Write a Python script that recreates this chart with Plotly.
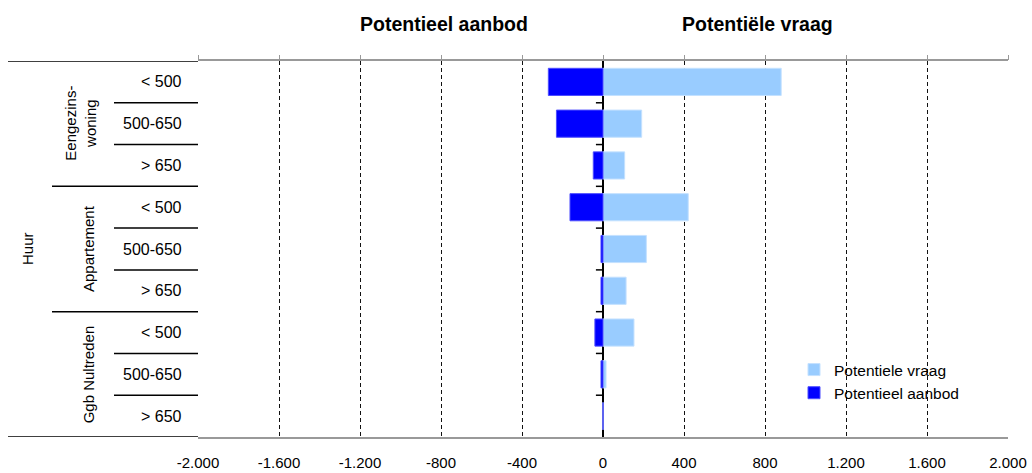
import plotly.graph_objects as go

# ---- data ----
sub_labels = ["< 500", "500-650", "> 650",
              "< 500", "500-650", "> 650",
              "< 500", "500-650", "> 650"]
groups = ["Eengezins-<br>woning", "Appartement", "Ggb Nultreden"]
top_group = "Huur"
vraag = [880, 191, 107, 421, 214, 114, 153, 15, 0]       # Potentiele vraag
aanbod = [-270, -230, -48, -163, -10, -10, -40, -10, 0]  # Potentieel aanbod
tick_vals = [-2000, -1600, -1200, -800, -400, 0, 400, 800, 1200, 1600, 2000]
tick_text = ["-2.000", "-1.600", "-1.200", "-800", "-400", "0",
             "400", "800", "1.200", "1.600", "2.000"]

rows = list(range(len(sub_labels)))
FONT = "Liberation Sans, Arial, sans-serif"
L, R, T, B = 198, 24, 61, 36
W, H = 1032, 473
PW = W - L - R

def px2paper(px):
    return (px - L) / PW

fig = go.Figure()
fig.add_trace(go.Bar(y=rows, x=vraag, orientation="h", name="Potentiele vraag",
                     marker=dict(color="#99CCFF", line=dict(color="#C4E1FF", width=1)),
                     width=0.65))
fig.add_trace(go.Bar(y=rows, x=aanbod, orientation="h", name="Potentieel aanbod",
                     marker=dict(color="#0000FF", line=dict(color="#4D4DFF", width=1)),
                     width=0.65))

shapes = []
n = len(rows)
for b in range(n + 1):
    yv = b - 0.5
    if b == 0 or b == n:
        x0 = 8
    elif b % 3 == 0:
        x0 = 52
    else:
        x0 = 114
    shapes.append(dict(type="line", xref="paper", yref="y", x0=px2paper(x0), x1=0,
                       y0=yv, y1=yv, line=dict(color="#000000", width=1.5)))
    if 0 < b < n:
        shapes.append(dict(type="line", xref="x", yref="y", x0=-35, x1=0,
                           y0=yv, y1=yv, line=dict(color="#000000", width=1.5)))

annotations = []
for i, lab in enumerate(sub_labels):
    annotations.append(dict(text=lab, xref="paper", yref="y", x=px2paper(184), y=i,
                            xanchor="right", yanchor="middle", showarrow=False,
                            font=dict(family=FONT, size=16, color="#000")))
gx = [81, 88, 88]
for g, name in enumerate(groups):
    annotations.append(dict(text=name, xref="paper", yref="y", x=px2paper(gx[g]), y=3 * g + 1,
                            xanchor="center", yanchor="middle", showarrow=False, textangle=-90,
                            font=dict(family=FONT, size=15, color="#000")))
annotations.append(dict(text=top_group, xref="paper", yref="y", x=px2paper(27), y=(n - 1) / 2,
                        xanchor="center", yanchor="middle", showarrow=False, textangle=-90,
                        font=dict(family=FONT, size=15, color="#000")))
TFONT = "Liberation Sans Narrow, Liberation Sans, Arial, sans-serif"
annotations.append(dict(text="<b>Potentieel aanbod</b>", xref="paper", yref="paper", x=px2paper(444),
                        y=1, yshift=37, xanchor="center", yanchor="middle", showarrow=False,
                        font=dict(family=TFONT, size=19.5, color="#000")))
annotations.append(dict(text="<b>Potentiële vraag</b>", xref="paper", yref="paper", x=px2paper(757),
                        y=1, yshift=37, xanchor="center", yanchor="middle", showarrow=False,
                        font=dict(family=TFONT, size=19.5, color="#000")))

fig.update_layout(
    width=W, height=H,
    margin=dict(l=L, r=R, t=T, b=B, autoexpand=False),
    barmode="overlay",
    plot_bgcolor="white", paper_bgcolor="white",
    showlegend=True,
    legend=dict(x=px2paper(794), y=(H - B - 353) / (H - T - B), xanchor="left", yanchor="top",
                font=dict(family=FONT, size=15.5, color="#000"), bgcolor="rgba(0,0,0,0)",
                traceorder="normal", itemwidth=30),
    xaxis=dict(range=[-2000, 2000], tickvals=tick_vals, ticktext=tick_text,
               showgrid=True, gridcolor="#111", griddash="4px,3px", gridwidth=1.3,
               zeroline=True, zerolinecolor="#000", zerolinewidth=2,
               showline=True, linecolor="#999", linewidth=2, mirror=True,
               ticks="", ticklabelstandoff=11, automargin=False,
               tickfont=dict(family=FONT, size=15, color="#000"), fixedrange=True),
    xaxis2=dict(range=[-2000, 2000], tickvals=tick_vals, overlaying="x", side="top",
                showticklabels=False, ticks="outside", ticklen=5, tickcolor="#999",
                showgrid=False, zeroline=False, showline=False, automargin=False),
    yaxis=dict(range=[n - 0.5, -0.5], showticklabels=False, showgrid=False, zeroline=False,
               showline=False, ticks="", fixedrange=True, automargin=False),
    shapes=shapes, annotations=annotations,
)
fig.add_trace(go.Scatter(x=[0], y=[0], xaxis="x2", mode="markers", marker=dict(opacity=0),
                         showlegend=False, hoverinfo="skip"))
fig.write_html("out.html", config={"displayModeBar": False},
               post_script="document.body.style.margin='0';document.body.style.overflow='hidden';")
